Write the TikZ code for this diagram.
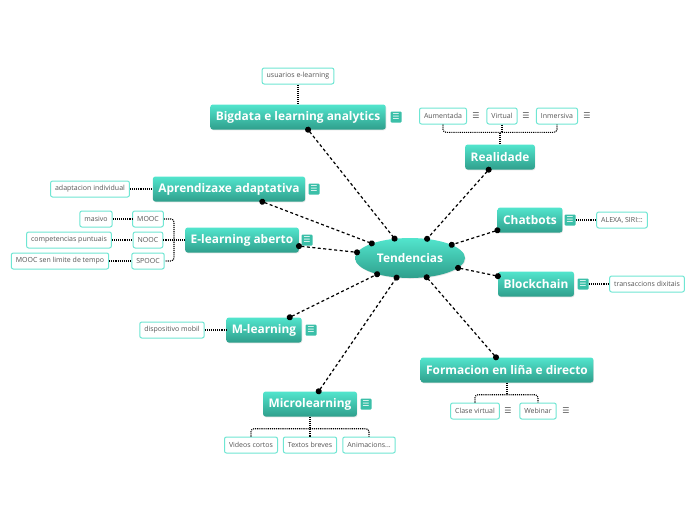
\documentclass[tikz,border=0pt]{standalone}
\usepackage{fontspec}
\setmainfont{Open Sans}
\newfontfamily\djv{DejaVu Sans}
\usetikzlibrary{arrows.meta,shapes.geometric,shadows}
\definecolor{mtop}{HTML}{52E5CD}
\definecolor{mbot}{HTML}{2F9F8C}
\definecolor{cbord}{HTML}{6FE6D3}
\definecolor{ctext}{HTML}{555555}
\definecolor{icol}{HTML}{3BBFA8}
\begin{document}
\begin{tikzpicture}[x=1pt,y=-1pt,
 main/.style={rectangle, rounded corners=2.5pt, top color=mtop, bottom color=mbot, draw=none, text=white,
   font=\bfseries\fontsize{11.9}{13}\selectfont, minimum height=25pt, inner xsep=5.5pt, inner ysep=0pt,
   drop shadow={opacity=0.2,shadow xshift=0.6pt,shadow yshift=-0.8pt}},
 hubnode/.style={ellipse, top color=mtop, bottom color=mbot, draw=none, text=white,
   font=\bfseries\fontsize{11.9}{13}\selectfont, minimum width=110pt, minimum height=40pt, inner sep=0pt,
   drop shadow={opacity=0.2,shadow xshift=0.6pt,shadow yshift=-0.8pt}},
 child/.style={rectangle, rounded corners=2pt, draw=cbord, line width=1pt, fill=white, text=ctext,
   font=\fontsize{7}{8}\selectfont, minimum height=16pt, inner xsep=4.5pt, inner ysep=0pt},
 icon/.style={rectangle, rounded corners=1pt, fill=icol, text=white, font=\djv\fontsize{8}{8}\selectfont,
   minimum size=11pt, inner sep=0pt},
 menu/.style={text=ctext, font=\djv\fontsize{8}{8}\selectfont, inner sep=0pt},
 hub/.style={line width=1.2pt, dash pattern=on 3pt off 2.5pt, {Circle[length=6pt]}-{Circle[length=6pt]},
   shorten <=-3pt, shorten >=-3pt},
 cline/.style={line width=1.1pt, densely dotted}
]
\useasboundingbox (0,0) rectangle (696,520);

\node[hubnode] (ten) at (410,258) {Tendencias};

% Bigdata
\node[main] (big) at (298,117) {Bigdata e learning analytics};
\node[icon] (bigi) at (396,117) {☰};
\node[child] (use) at (298,76) {usuarios e-learning};
\draw[cline] (use) -- (big);

% Realidade
\node[main] (real) at (500,157) {Realidade};
\node[child] (aum) at (443,116) {Aumentada};
\node[menu] (aumm) at (476,116) {☰};
\node[child] (vir) at (502,116) {Virtual};
\node[menu] (virm) at (526,116) {☰};
\node[child] (inm) at (557,116) {Inmersiva};
\node[menu] (inmm) at (587,116) {☰};
\path (real.north) ++(0,-12) coordinate (rj);
\draw[cline] (real.north) -- (rj);
\draw[cline, rounded corners=3pt] (aum.south) |- (rj) -| (inm.south);
\draw[cline] (vir.south) -- (vir.south |- rj);

% Chatbots
\node[main] (chat) at (530,220) {Chatbots};
\node[icon] (chati) at (570,220) {☰};
\node[child] (alexa) at (622,220) {ALEXA, SIRI:::};
\draw[cline] (chati) -- (alexa);

% Blockchain
\node[main] (block) at (536,284) {Blockchain};
\node[icon] (blocki) at (583,284) {☰};
\node[child] (trans) at (647,284) {transaccions dixitais};
\draw[cline] (blocki) -- (trans);

% Formacion
\node[main] (form) at (507,370) {Formacion en liña e directo};
\node[child] (clase) at (475,411) {Clase virtual};
\node[menu] (clasem) at (508,411) {☰};
\node[child] (web) at (538,411) {Webinar};
\node[menu] (webm) at (566,411) {☰};
\path (form.south) ++(0,12) coordinate (fj);
\draw[cline] (form.south) -- (fj);
\draw[cline, rounded corners=3pt] (clase.north) |- (fj) -| (web.north);

% Microlearning
\node[main] (micro) at (310,404) {Microlearning};
\node[icon] (microi) at (366,404) {☰};
\node[child] (vid) at (251,445) {Videos cortos};
\node[child] (tex) at (310,445) {Textos breves};
\node[child] (ani) at (369,445) {Animacions...};
\path (micro.south) ++(0,12) coordinate (mj);
\draw[cline] (micro.south) -- (mj);
\draw[cline, rounded corners=3pt] (vid.north) |- (mj) -| (ani.north);
\draw[cline] (tex.north) -- (tex.north |- mj);

% M-learning
\node[main] (mlearn) at (264,330) {M-learning};
\node[icon] (mlearni) at (311,330) {☰};
\node[child] (disp) at (172,330) {dispositivo mobil};
\draw[cline] (disp) -- (mlearn);

% E-learning aberto
\node[main] (ela) at (242,240) {E-learning aberto};
\node[icon] (elai) at (307,240) {☰};
\node[child] (mooc) at (148,219) {MOOC};
\node[child] (nooc) at (148,240) {NOOC};
\node[child] (spooc) at (148,261) {SPOOC};
\node[child] (masivo) at (96,219) {masivo};
\node[child] (comp) at (69,240) {competencias puntuais};
\node[child] (msen) at (60,261) {MOOC sen limite de tempo};
\path (ela.west) ++(-11,0) coordinate (ej);
\draw[cline] (ela.west) -- (ej);
\draw[cline, rounded corners=3pt] (mooc.east) -| (ej) |- (spooc.east);
\draw[cline] (nooc.east) -- (ej);
\draw[cline] (masivo) -- (mooc);
\draw[cline] (comp) -- (nooc);
\draw[cline] (msen) -- (spooc);

% Aprendizaxe
\node[main] (apr) at (229,189) {Aprendizaxe adaptativa};
\node[icon] (apri) at (314,189) {☰};
\node[child] (adap) at (90,189) {adaptacion individual};
\draw[cline] (adap) -- (apr);

% hub connectors
\draw[hub] (big) -- (ten);
\draw[hub] (real) -- (ten);
\draw[hub] (chat) -- (ten);
\draw[hub] (block) -- (ten);
\draw[hub] (form) -- (ten);
\draw[hub] (micro) -- (ten);
\draw[hub] (mlearn) -- (ten);
\draw[hub] (ela) -- (ten);
\draw[hub] (apr) -- (ten);
\end{tikzpicture}
\end{document}
